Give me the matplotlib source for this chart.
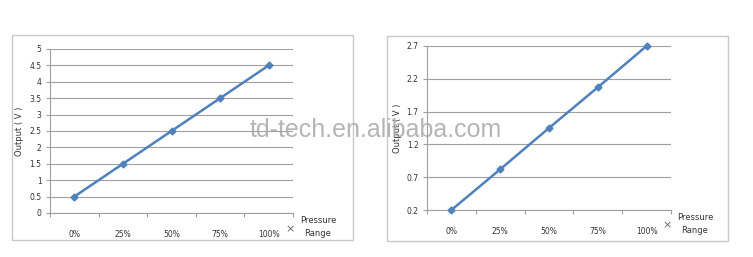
import matplotlib
matplotlib.use("Agg")
import matplotlib.pyplot as plt
from matplotlib.patches import Rectangle

# data
categories = ["0%", "25%", "50%", "75%", "100%"]
left_values = [0.5, 1.5, 2.5, 3.5, 4.5]
left_ticks = [0, 0.5, 1, 1.5, 2, 2.5, 3, 3.5, 4, 4.5, 5]
left_ticklabels = ["0", "0.5", "1", "1.5", "2", "2.5", "3", "3.5", "4", "4.5", "5"]
right_values = [0.2, 0.82, 1.45, 2.07, 2.7]
right_ticks = [0.2, 0.7, 1.2, 1.7, 2.2, 2.7]
right_ticklabels = ["0.2", "0.7", "1.2", "1.7", "2.2", "2.7"]

W, H = 753, 257
LINE = "#4F81BD"
GRID = "#a0a0a0"
TXT = "#333333"

fig = plt.figure(figsize=(W / 100, H / 100), dpi=100)
fig.patch.set_facecolor("white")


def px_axes(x0, y0, x1, y1):
    # pixel box (top-left origin) -> figure axes
    return fig.add_axes([x0 / W, 1 - y1 / H, (x1 - x0) / W, (y1 - y0) / H])


def frame(x0, y0, x1, y1):
    fig.add_artist(Rectangle((x0 / W, 1 - y1 / H), (x1 - x0) / W, (y1 - y0) / H,
                             transform=fig.transFigure, fill=False,
                             edgecolor="#c8c8c8", linewidth=1.0))


def draw_chart(box, values, ticks, ticklabels, ylim, ylabel_x, cross_xy, label_xy):
    x0, y0, x1, y1 = box
    ax = px_axes(x0, y0, x1, y1)
    xs = list(range(len(categories)))
    ax.plot(xs, values, color=LINE, linewidth=1.8, marker="D", markersize=3.5,
            markerfacecolor=LINE, markeredgecolor=LINE, zorder=3, clip_on=False)
    ax.set_xlim(-0.5, len(categories) - 0.5)
    ax.set_ylim(*ylim)
    ax.set_yticks(ticks)
    ax.set_yticklabels(ticklabels)
    ax.set_xticks(xs)
    ax.set_xticklabels(categories)
    ax.set_xticks([i + 0.5 for i in range(-1, len(categories))], minor=True)
    ax.tick_params(axis="x", which="major", length=0, pad=12, labelsize=5.5, labelcolor=TXT)
    ax.tick_params(axis="x", which="minor", length=3, color=GRID, width=0.8)
    ax.tick_params(axis="y", length=3, color=GRID, width=0.8, pad=3, labelsize=5.5, labelcolor=TXT)
    ax.grid(axis="y", color=GRID, linewidth=0.8)
    ax.set_axisbelow(True)
    for s in ("top", "right"):
        ax.spines[s].set_visible(False)
    for s in ("left", "bottom"):
        ax.spines[s].set_color(GRID)
        ax.spines[s].set_linewidth(0.8)
    fig.text(ylabel_x / W, 1 - ((y0 + y1) / 2) / H, "Output ( V )", rotation=90,
             ha="center", va="center", fontsize=6, color=TXT)
    fig.text(cross_xy[0] / W, 1 - cross_xy[1] / H, "\u00d7", ha="center", va="center",
             fontsize=8, color="#666666")
    fig.text(label_xy[0] / W, 1 - label_xy[1] / H, "Pressure\nRange", ha="center",
             va="center", fontsize=6, color=TXT, linespacing=1.6)


frame(12, 35, 353, 240)
frame(387, 36, 728, 241)

draw_chart((50, 49, 293, 213), left_values, left_ticks, left_ticklabels, (0, 5),
           20, (290, 229), (318, 227))
draw_chart((427, 46, 671, 210), right_values, right_ticks, right_ticklabels, (0.2, 2.7),
           397, (667, 225), (695, 224))

# watermark (sits over the right chart's y label, as in the source image)
fig.text(376 / W, 1 - 130 / H, "td-tech.en.alibaba.com", ha="center", va="center",
         fontsize=18, family="Liberation Sans", color="#a8a8a8", alpha=0.85, zorder=10)

fig.savefig("out.png", dpi=100)
